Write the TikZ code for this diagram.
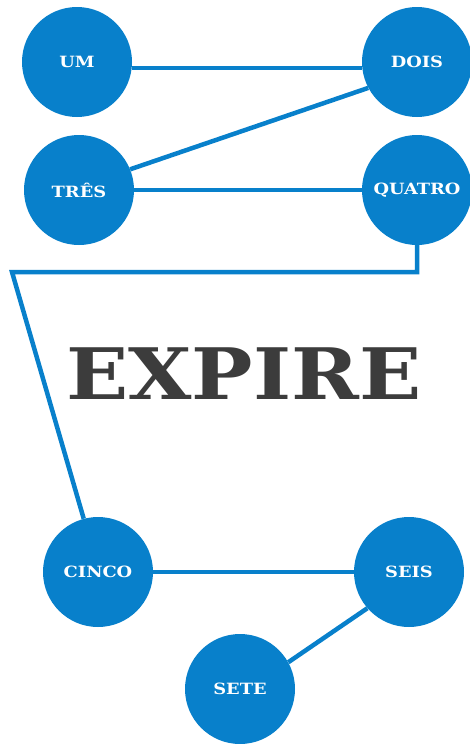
\documentclass[tikz,border=0pt]{standalone}
\usepackage{fontspec}
\newfontfamily\slab[FakeStretch=1.15]{DejaVu Serif}
\definecolor{nodeblue}{HTML}{0880CB}
\definecolor{titlegrey}{HTML}{3C3C3C}
\tikzset{
  bubble/.style={circle, fill=nodeblue, draw=none, minimum size=110pt, inner sep=0pt,
    text=white, font=\slab\bfseries\fontsize{15.5}{15.5}\selectfont},
  link/.style={draw=nodeblue, line width=4.5pt},
}
\begin{document}
\begin{tikzpicture}[x=1pt, y=-1pt]
\useasboundingbox (0,0) rectangle (470,744);
\node[bubble] (UM) at (77,62) {UM};
\node[bubble] (DOIS) at (417,62) {DOIS};
\node[bubble] (TRES) at (79,190) {TRÊS};
\node[bubble] (QUATRO) at (417,190) {QUATRO};
\node[bubble] (CINCO) at (98,572) {CINCO};
\node[bubble] (SEIS) at (409,572) {SEIS};
\node[bubble] (SETE) at (240,689) {SETE};
\coordinate (c1) at (417,272);
\coordinate (c2) at (12,272);
\node[text=titlegrey, font=\slab\bfseries\fontsize{71}{71}\selectfont, inner sep=0pt] (title) at (244,374) {EXPIRE};
\draw[link] (UM.-6) -- (DOIS.186);
\draw[link] (DOIS.208) -- (TRES.22);
\draw[link] (TRES.east) -- (QUATRO.west);
\draw[link, line join=miter] (QUATRO.south) -- (c1) -- (c2) -- (CINCO.105);
\draw[link] (CINCO.east) -- (SEIS.west);
\draw[link] (SEIS.221) -- (SETE.29);
\end{tikzpicture}
\end{document}
